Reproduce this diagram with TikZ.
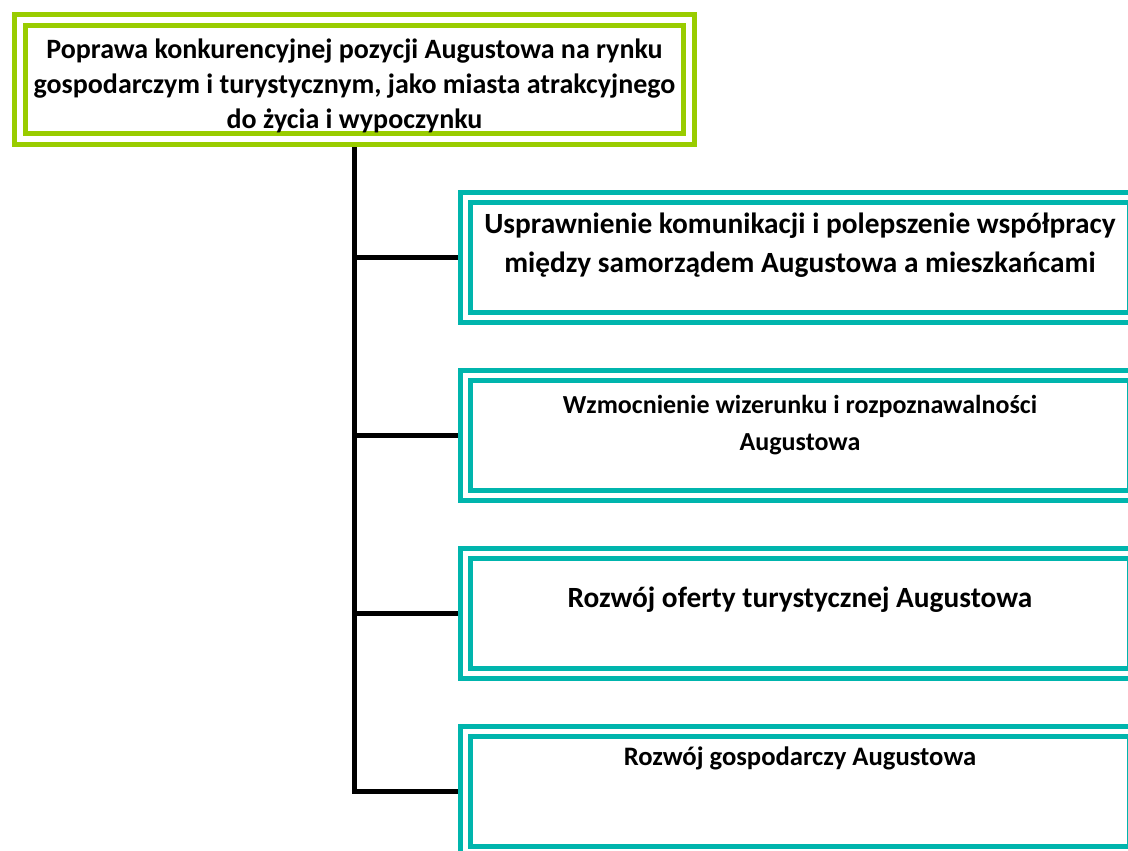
\documentclass[tikz,border=0pt]{standalone}
\usepackage{fontspec}
\setmainfont{Carlito}
\definecolor{goalgreen}{RGB}{153,204,0}
\definecolor{aimteal}{RGB}{0,181,173}
\begin{document}
\begin{tikzpicture}[x=0.75pt,y=-0.75pt,
  every node/.style={font=\fontsize{21}{26.25}\selectfont\bfseries},
  goalbox/.style={draw=goalgreen,double=white,line width=3.75pt,double distance=4.5pt,
    minimum width=501.75pt,minimum height=89.25pt,inner sep=0pt,outer sep=6pt},
  aimbox/.style={draw=aimteal,double=white,line width=3.75pt,double distance=3.75pt,
    minimum width=501.75pt,minimum height=90pt,inner sep=0pt,outer sep=5.625pt},
  boxtext/.style={anchor=base,align=center,inner sep=0pt},
  link/.style={line width=3.75pt}]
  \clip (0,0) rectangle (1128,850);
  % main goal
  \node[goalbox] (goal) at (354.5,79.5) {};
  \node[boxtext] (goaltext) at (354.5,128.5) {Poprawa konkurencyjnej pozycji Augustowa na rynku\\
    gospodarczym i turystycznym, jako miasta atrakcyjnego\\do życia i wypoczynku};
  % aims
  \node[aimbox] (aim1) at (800,257.5) {};
  \node[aimbox] (aim2) at (800,435.5) {};
  \node[aimbox] (aim3) at (800,613.5) {};
  \node[aimbox] (aim4) at (800,791.5) {};
  \node[boxtext,font=\fontsize{22}{29.25}\selectfont\bfseries] (aimtext1) at (800,272)
    {Usprawnienie komunikacji i polepszenie współpracy\\między samorządem Augustowa a mieszkańcami};
  \node[boxtext,font=\fontsize{19.5}{27.75}\selectfont\bfseries] (aimtext2) at (800,450)
    {Wzmocnienie wizerunku i rozpoznawalności\\Augustowa};
  \node[boxtext,font=\fontsize{22}{27.75}\selectfont\bfseries] (aimtext3) at (800,607)
    {Rozwój oferty turystycznej Augustowa};
  \node[boxtext,font=\fontsize{20}{26}\selectfont\bfseries] (aimtext4) at (800,765)
    {Rozwój gospodarczy Augustowa};
  % tree
  \draw[link] (goal.south) |- (aim4.west);
  \foreach \i in {1,2,3}
    \draw[link] (goal.south |- aim\i.west) -- (aim\i.west);
\end{tikzpicture}
\end{document}
